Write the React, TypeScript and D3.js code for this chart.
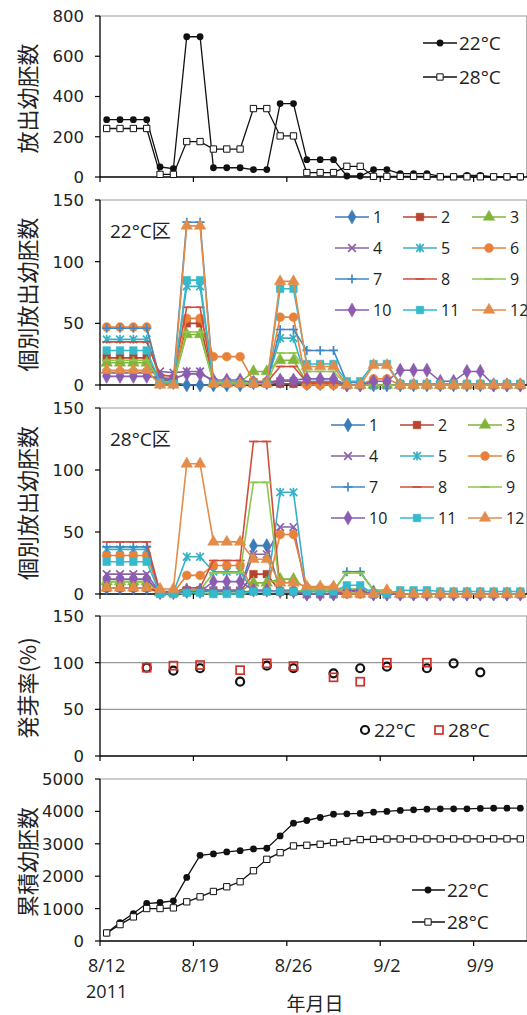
import React from "react";
import * as d3 from "d3";

// days 8/12 .. 9/12 (2011), one category per day
const dates: string[] = d3
  .timeDay.range(new Date(2011, 7, 12), new Date(2011, 8, 13))
  .map(d3.timeFormat("%-m/%-d"));
const tickDates = ["8/12", "8/19", "8/26", "9/2", "9/9"];

// panel 1: released embryos per day
const release22 = [285, 285, 285, 285, 50, 41, 697, 697, 46, 46, 46, 37, 37, 365, 365, 86, 86, 86, 5, 5, 37, 37, 17, 17, 17, 3, 3, 8, 8, 0, 0, 0];
const release28 = [241, 241, 241, 241, 13, 13, 176, 176, 139, 139, 139, 340, 340, 204, 204, 22, 22, 22, 53, 53, 3, 3, 3, 3, 3, 1, 1, 1, 1, 1, 1, 1];

// panel 2: individuals, 22°C
const ind22 = [
  [10, 10, 10, 10, 2, 2, 0, 0, 0, 0, 0, 2, 2, 3, 3, 1, 1, 1, 0, 0, 0, 0, 0, 0, 0, 0, 0, 0, 0, 0, 0, 0],
  [22, 22, 22, 22, 4, 3, 50, 50, 2, 2, 2, 2, 2, 1, 1, 1, 1, 1, 0, 0, 0, 0, 0, 0, 0, 0, 0, 0, 0, 0, 0, 0],
  [18, 18, 18, 18, 2, 2, 41, 41, 2, 2, 2, 11, 11, 20, 20, 2, 2, 2, 0, 0, 0, 0, 0, 0, 0, 0, 0, 0, 0, 0, 0, 0],
  [10, 10, 10, 10, 11, 10, 11, 11, 2, 2, 2, 2, 2, 3, 3, 2, 2, 2, 0, 0, 0, 0, 0, 0, 0, 0, 0, 0, 0, 0, 0, 0],
  [37, 37, 37, 37, 5, 4, 80, 80, 2, 2, 2, 2, 2, 38, 38, 3, 3, 3, 0, 0, 0, 0, 0, 0, 0, 0, 0, 0, 0, 0, 0, 0],
  [47, 47, 47, 47, 2, 2, 54, 54, 23, 23, 23, 3, 3, 55, 55, 0, 0, 0, 0, 0, 5, 5, 0, 0, 0, 0, 0, 0, 0, 0, 0, 0],
  [46, 46, 46, 46, 5, 4, 132, 132, 2, 2, 2, 2, 2, 45, 45, 28, 28, 28, 2, 2, 0, 0, 0, 0, 0, 0, 0, 0, 0, 0, 0, 0],
  [35, 35, 35, 35, 8, 7, 63, 63, 2, 2, 2, 2, 2, 15, 15, 2, 2, 2, 0, 0, 0, 0, 0, 0, 0, 0, 0, 0, 0, 0, 0, 0],
  [20, 20, 20, 20, 3, 2, 43, 43, 2, 2, 2, 2, 2, 26, 26, 11, 11, 11, 0, 0, 0, 0, 0, 0, 0, 0, 0, 0, 0, 0, 0, 0],
  [7, 7, 7, 7, 6, 5, 9, 9, 4, 4, 4, 2, 2, 4, 4, 5, 5, 5, 0, 0, 3, 3, 12, 12, 12, 3, 3, 11, 11, 0, 0, 0],
  [28, 28, 28, 28, 2, 1, 85, 85, 1, 1, 1, 1, 1, 78, 78, 17, 17, 17, 3, 3, 17, 17, 1, 1, 1, 1, 1, 1, 1, 1, 1, 1],
  [12, 12, 12, 12, 0, 0, 129, 129, 1, 1, 1, 1, 1, 84, 84, 15, 15, 15, 0, 0, 16, 16, 0, 0, 0, 0, 0, 0, 0, 0, 0, 0],
];

// panel 3: individuals, 28°C
const ind28 = [
  [5, 5, 5, 5, 2, 2, 3, 3, 3, 3, 3, 39, 39, 3, 3, 0, 0, 0, 2, 2, 0, 0, 0, 0, 0, 0, 0, 0, 0, 0, 0, 0],
  [5, 5, 5, 5, 1, 1, 3, 3, 2, 2, 2, 16, 16, 2, 2, 0, 0, 0, 2, 2, 0, 0, 0, 0, 0, 0, 0, 0, 0, 0, 0, 0],
  [10, 10, 10, 10, 1, 1, 2, 2, 2, 2, 2, 9, 9, 12, 12, 4, 4, 4, 4, 4, 2, 2, 0, 0, 0, 0, 0, 0, 0, 0, 0, 0],
  [16, 16, 16, 16, 1, 1, 2, 2, 3, 3, 3, 32, 32, 54, 54, 0, 0, 0, 0, 0, 0, 0, 0, 0, 0, 0, 0, 0, 0, 0, 0, 0],
  [36, 36, 36, 36, 1, 1, 30, 30, 18, 18, 18, 2, 2, 82, 82, 0, 0, 0, 0, 0, 0, 0, 0, 0, 0, 0, 0, 0, 0, 0, 0, 0],
  [31, 31, 31, 31, 1, 1, 15, 15, 23, 23, 23, 3, 3, 48, 48, 5, 5, 5, 0, 0, 0, 0, 0, 0, 0, 0, 0, 0, 0, 0, 0, 0],
  [38, 38, 38, 38, 1, 1, 5, 5, 2, 2, 2, 2, 2, 2, 2, 2, 2, 2, 18, 18, 3, 3, 0, 0, 0, 0, 0, 0, 0, 0, 0, 0],
  [42, 42, 42, 42, 1, 1, 5, 5, 27, 27, 27, 123, 123, 2, 2, 0, 0, 0, 0, 0, 0, 0, 0, 0, 0, 0, 0, 0, 0, 0, 0, 0],
  [10, 10, 10, 10, 1, 1, 3, 3, 17, 17, 17, 90, 90, 2, 2, 3, 3, 3, 17, 17, 3, 3, 0, 0, 0, 0, 0, 0, 0, 0, 0, 0],
  [12, 12, 12, 12, 1, 1, 2, 2, 10, 10, 10, 3, 3, 2, 2, 0, 0, 0, 3, 3, 0, 0, 0, 0, 0, 0, 0, 0, 0, 0, 0, 0],
  [26, 26, 26, 26, 0, 0, 1, 1, 0, 0, 0, 2, 2, 2, 2, 2, 2, 2, 7, 7, 0, 0, 3, 3, 3, 2, 2, 2, 2, 2, 2, 2],
  [5, 5, 5, 5, 4, 4, 105, 105, 42, 42, 42, 28, 28, 9, 9, 6, 6, 6, 0, 0, 0, 3, 0, 0, 0, 0, 0, 0, 0, 0, 0, 0],
];
const indNames = ["1", "2", "3", "4", "5", "6", "7", "8", "9", "10", "11", "12"];
const indColors = ["#3b7cb6", "#b9432f", "#82b43c", "#8a63a9", "#38b0c4", "#e8823a", "#3f8ac6", "#d24c3c", "#8fc64c", "#8a5db0", "#35bacc", "#e38c4a"];
const indMarkers = ["diamond", "square", "triangle", "times", "asterisk", "circle", "plus", "dash", "dash", "diamond", "square", "triangle"];

// panel 4: germination rate (%)
const germDates22 = ["8/15", "8/17", "8/19", "8/22", "8/24", "8/26", "8/29", "8/31", "9/2", "9/5", "9/7", "9/9"];
const germ22 = [94.6, 91.4, 94, 79.6, 96.8, 94, 88.6, 94, 95.7, 94, 99.3, 89.6];
const germDates28 = ["8/15", "8/17", "8/19", "8/22", "8/24", "8/26", "8/29", "8/31", "9/2", "9/5"];
const germ28 = [94.6, 96.8, 97.5, 92, 99.3, 96.4, 84.3, 79.6, 100, 100];

// panel 5: cumulative
const cum22 = [248, 568, 847, 1157, 1188, 1240, 1963, 2645, 2686, 2748, 2789, 2841, 2862, 3244, 3636, 3719, 3812, 3915, 3926, 3936, 3977, 3998, 4029, 4050, 4070, 4080, 4080, 4080, 4091, 4101, 4101, 4101];
const cum28 = [248, 506, 744, 1002, 1002, 1023, 1209, 1364, 1529, 1674, 1829, 2169, 2521, 2727, 2934, 2955, 2986, 3037, 3079, 3130, 3140, 3148, 3150, 3151, 3151, 3151, 3151, 3151, 3151, 3152, 3152, 3152];

const X0 = 100;
const X1 = 527;
const x = d3.scaleBand<string>().domain(dates).range([X0, X1]);
const cx = (d: string) => (x(d) ?? 0) + x.bandwidth() / 2;

const TXT = "'Open Sans', 'Noto Sans CJK JP', sans-serif";
const NUM = "'DejaVu Sans', sans-serif";
const JP = "'Noto Sans CJK JP', sans-serif";

function markerPath(type: string): string {
  switch (type) {
    case "diamond":
      return d3.symbol(d3.symbolDiamond, 58)()!;
    case "square":
      return d3.symbol(d3.symbolSquare, 58)()!;
    case "triangle":
      return d3.symbol(d3.symbolTriangle, 58)()!;
    case "circle":
      return d3.symbol(d3.symbolCircle, 62)()!;
    case "times":
      return "M-3.8,-3.8L3.8,3.8M-3.8,3.8L3.8,-3.8";
    case "asterisk":
      return "M-3.8,-3.8L3.8,3.8M-3.8,3.8L3.8,-3.8M0,-4.5V4.5";
    case "plus":
      return "M-4.5,0H4.5M0,-4.5V4.5";
    default:
      return "M-4.5,0H4.5";
  }
}
const isStroke = (t: string) => t === "times" || t === "asterisk" || t === "plus" || t === "dash";

function Marker({ type, color, px, py }: { type: string; color: string; px: number; py: number }) {
  const s = isStroke(type);
  return (
    <path
      d={markerPath(type)}
      transform={`translate(${px},${py})`}
      fill={s ? "none" : color}
      stroke={color}
      strokeWidth={s ? 1.7 : 0.5}
    />
  );
}

function Frame({ top, bottom, y, ticks, grid, title, xLabels }: any) {
  return (
    <g>
      {grid &&
        grid.map((g: number) => (
          <line key={g} x1={X0} x2={X1} y1={y(g)} y2={y(g)} stroke="#999" strokeWidth={1.2} />
        ))}
      <line x1={X0} x2={X1} y1={top} y2={top} stroke="#9a9a9a" strokeWidth={1.2} />
      <line x1={526.5} x2={526.5} y1={top} y2={bottom} stroke="#b0b0b0" strokeWidth={1} />
      <line x1={X0} x2={X0} y1={top} y2={bottom} stroke="#000" strokeWidth={1.3} />
      <line x1={X0} x2={X1} y1={bottom} y2={bottom} stroke="#000" strokeWidth={1.3} />
      {ticks.map((t: number) => (
        <g key={t}>
          <line x1={X0 - 5} x2={X0} y1={y(t)} y2={y(t)} stroke="#000" strokeWidth={1.2} />
          <text x={84} y={y(t)} dy="0.36em" textAnchor="end" fontFamily={NUM} fontSize={16.5} fill="#222">
            {t}
          </text>
        </g>
      ))}
      {tickDates.map((d) => (
        <line key={d} x1={x(d)} x2={x(d)} y1={bottom} y2={bottom + 5} stroke="#000" strokeWidth={1.2} />
      ))}
      {xLabels &&
        tickDates.map((d) => (
          <text key={d} x={cx(d)} y={bottom + 31} textAnchor="middle" fontFamily={TXT} fontSize={18} fill="#222">
            {d}
          </text>
        ))}
      <text
        transform={`translate(28,${(top + bottom) / 2 + 2}) rotate(-90)`}
        textAnchor="middle"
        dy="0.36em"
        fontFamily={JP}
        fontSize={22}
        fill="#222"
      >
        {title}
      </text>
    </g>
  );
}

function IndPanel({ top, bottom, data, label, legX }: any) {
  const y = d3.scaleLinear().domain([0, 150]).range([bottom, top]);
  const line = d3
    .line<number>()
    .x((_, i) => cx(dates[i]))
    .y((v) => y(v));
  const rows = [17, 48, 79, 110];
  return (
    <g>
      <Frame top={top} bottom={bottom} y={y} ticks={[0, 50, 100, 150]} title="個別放出幼胚数" />
      {data.map((s: number[], k: number) => (
        <g key={k}>
          <path d={line(s)!} fill="none" stroke={indColors[k]} strokeWidth={1.6} />
          {s.map((v, i) => (
            <Marker key={i} type={indMarkers[k]} color={indColors[k]} px={cx(dates[i])} py={y(v)} />
          ))}
        </g>
      ))}
      <text x={110} y={top + 38} fontFamily={TXT} fontSize={19} fill="#222">
        {label}
      </text>
      {indNames.map((n, k) => {
        const lx = legX[k % 3];
        const ly = top + rows[Math.floor(k / 3)];
        return (
          <g key={n}>
            <line x1={lx} x2={lx + 34} y1={ly} y2={ly} stroke={indColors[k]} strokeWidth={1.6} />
            <Marker type={indMarkers[k]} color={indColors[k]} px={lx + 17} py={ly} />
            <text x={lx + 38} y={ly} dy="0.36em" fontFamily={TXT} fontSize={16} fill="#222">
              {n}
            </text>
          </g>
        );
      })}
    </g>
  );
}

export default function App() {
  // panel 1
  const y1 = d3.scaleLinear().domain([0, 800]).range([177, 16]);
  const l1 = d3.line<number>().x((_, i) => cx(dates[i])).y((v) => y1(v));
  // panel 4
  const y4 = d3.scaleLinear().domain([0, 150]).range([756, 616]);
  // panel 5
  const y5 = d3.scaleLinear().domain([0, 5000]).range([941, 779]);
  const l5 = d3.line<number>().x((_, i) => cx(dates[i])).y((v) => y5(v));

  const sq = d3.symbol(d3.symbolSquare, 40)()!;

  return (
    <svg width={527} height={1015} style={{ position: "absolute", left: 0, top: 0, background: "#fff" }}>
      {/* panel 1 */}
      <Frame top={16} bottom={177} y={y1} ticks={[0, 200, 400, 600, 800]} title="放出幼胚数" />
      <path d={l1(release22)!} fill="none" stroke="#111" strokeWidth={1.3} />
      <path d={l1(release28)!} fill="none" stroke="#111" strokeWidth={1.3} />
      {release22.map((v, i) => (
        <circle key={i} cx={cx(dates[i])} cy={y1(v)} r={3.4} fill="#111" />
      ))}
      {release28.map((v, i) => (
        <path key={i} d={sq} transform={`translate(${cx(dates[i])},${y1(v)})`} fill="#fff" stroke="#111" strokeWidth={1} />
      ))}
      <g>
        <line x1={423} x2={457} y1={43} y2={43} stroke="#111" strokeWidth={1.3} />
        <circle cx={440} cy={43} r={3.4} fill="#111" />
        <text x={459} y={43} dy="0.36em" fontFamily={TXT} fontSize={19} fill="#222">22°C</text>
        <line x1={423} x2={457} y1={77} y2={77} stroke="#111" strokeWidth={1.3} />
        <path d={sq} transform="translate(440,77)" fill="#fff" stroke="#111" strokeWidth={1} />
        <text x={459} y={77} dy="0.36em" fontFamily={TXT} fontSize={19} fill="#222">28°C</text>
      </g>

      {/* panels 2, 3 */}
      <IndPanel top={200} bottom={385} data={ind22} label="22°C区" legX={[335, 403, 472]} />
      <IndPanel top={408} bottom={594} data={ind28} label="28°C区" legX={[331, 400, 468]} />

      {/* panel 4 */}
      <Frame top={616} bottom={756} y={y4} ticks={[0, 50, 100, 150]} grid={[50, 100]} title="発芽率(%)" />
      {germ22.map((v, i) => (
        <circle key={i} cx={cx(germDates22[i])} cy={y4(v)} r={4} fill="none" stroke="#111" strokeWidth={2.2} />
      ))}
      {germ28.map((v, i) => (
        <rect key={i} x={cx(germDates28[i]) - 4} y={y4(v) - 4} width={8} height={8} fill="none" stroke="#d2302a" strokeWidth={1.7} />
      ))}
      <circle cx={365} cy={730} r={4} fill="none" stroke="#111" strokeWidth={2.2} />
      <text x={374} y={730} dy="0.36em" fontFamily={TXT} fontSize={19} fill="#222">22°C</text>
      <rect x={435} y={726} width={8} height={8} fill="none" stroke="#d2302a" strokeWidth={1.7} />
      <text x={448} y={730} dy="0.36em" fontFamily={TXT} fontSize={19} fill="#222">28°C</text>

      {/* panel 5 */}
      <Frame top={779} bottom={941} y={y5} ticks={[0, 1000, 2000, 3000, 4000, 5000]} title="累積幼胚数" xLabels />
      <path d={l5(cum22)!} fill="none" stroke="#111" strokeWidth={1.3} />
      <path d={l5(cum28)!} fill="none" stroke="#111" strokeWidth={1.3} />
      {cum22.map((v, i) => (
        <circle key={i} cx={cx(dates[i])} cy={y5(v)} r={3.4} fill="#111" />
      ))}
      {cum28.map((v, i) => (
        <path key={i} d={sq} transform={`translate(${cx(dates[i])},${y5(v)})`} fill="#fff" stroke="#111" strokeWidth={1} />
      ))}
      <line x1={412} x2={445} y1={890} y2={890} stroke="#111" strokeWidth={1.3} />
      <circle cx={428} cy={890} r={3.4} fill="#111" />
      <text x={447} y={890} dy="0.36em" fontFamily={TXT} fontSize={19} fill="#222">22°C</text>
      <line x1={412} x2={445} y1={922} y2={922} stroke="#111" strokeWidth={1.3} />
      <path d={sq} transform="translate(428,922)" fill="#fff" stroke="#111" strokeWidth={1} />
      <text x={447} y={922} dy="0.36em" fontFamily={TXT} fontSize={19} fill="#222">28°C</text>

      <text x={cx("8/12")} y={998} textAnchor="middle" fontFamily={TXT} fontSize={18} fill="#222">2011</text>
      <text x={315} y={1011} textAnchor="middle" fontFamily={JP} fontSize={19} fill="#222">年月日</text>
    </svg>
  );
}
